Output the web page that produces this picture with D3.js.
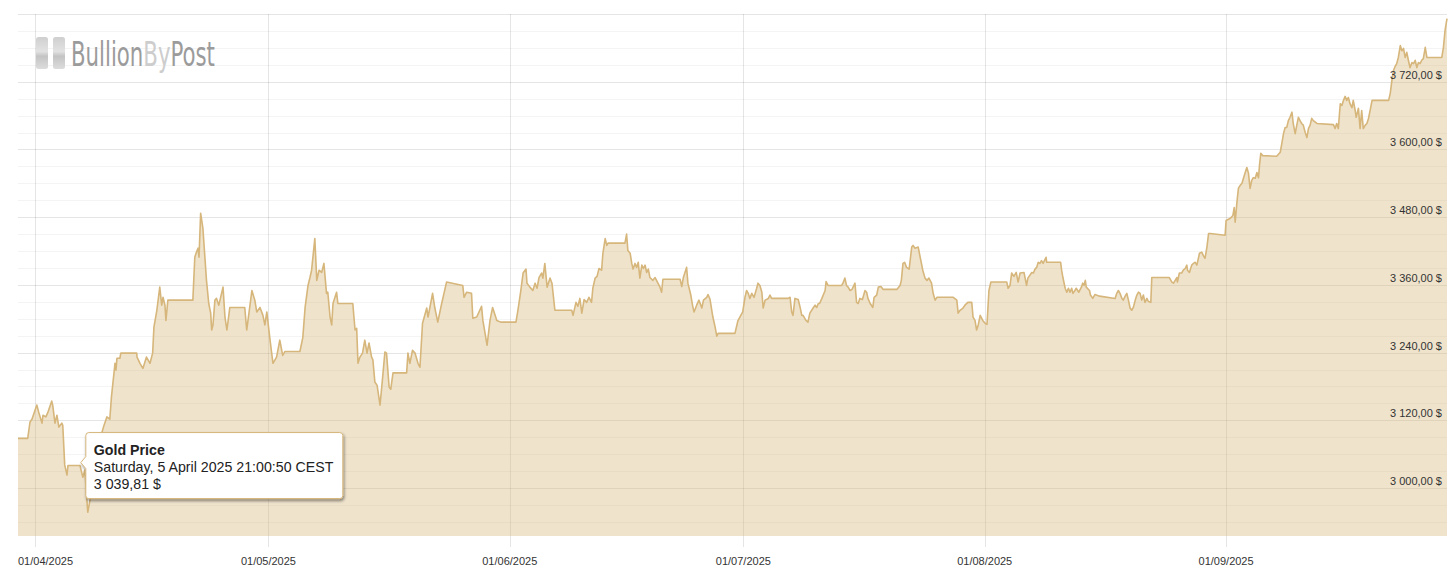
<!DOCTYPE html>
<html>
<head>
<meta charset="utf-8">
<style>
  body { margin: 0; padding: 0; background: #fff; }
  svg { display: block; font-family: "Liberation Sans", Arial, sans-serif; }
</style>
</head>
<body>
<svg id="chart" width="1456" height="574"></svg>
<script src="https://d3js.org/d3.v7.min.js"></script>
<script>
// ---------------- data ----------------
// timestamps "MM-DD HH" in 2025
const times = [
  "03-29 20","03-31 02","03-31 09","03-31 15","04-01 06","04-01 12","04-01 22","04-02 01","04-02 10","04-02 16",
  "04-03 04","04-03 07","04-03 14","04-03 20","04-04 02","04-04 11","04-04 14","04-04 20","04-05 03","04-05 06",
  "04-06 19","04-07 04","04-07 10","04-07 19","04-08 02","04-08 17","04-09 08","04-09 21","04-10 06","04-10 15",
  "04-10 20","04-11 07","04-11 10","04-11 13","04-11 22","04-12 01","04-14 02","04-14 03","04-14 12","04-14 21",
  "04-15 08","04-15 19","04-16 03","04-16 07","04-16 16","04-17 01","04-17 07","04-17 11","04-17 17","04-17 20",
  "04-18 02","04-21 07","04-21 13","04-21 18","04-21 23","04-22 02","04-22 07","04-22 14","04-23 01","04-23 08",
  "04-23 14","04-23 17","04-23 21","04-24 03","04-24 08","04-24 15","04-25 04","04-25 10","04-25 16","04-26 01",
  "04-27 23","04-28 05","04-28 09","04-28 21","04-29 06","04-29 12","04-29 22","04-30 07","04-30 13","04-30 19",
  "05-01 05","05-01 10","05-01 14","05-02 01","05-02 11","05-02 20","05-03 03","05-05 01","05-05 10","05-05 17",
  "05-06 02","05-06 08","05-06 13","05-06 23","05-07 05","05-07 12","05-07 20","05-08 03","05-08 11","05-08 15",
  "05-08 22","05-09 03","05-09 07","05-09 18","05-09 22","05-11 20","05-12 03","05-12 08","05-12 12","05-12 18",
  "05-13 02","05-13 09","05-13 16","05-13 22","05-14 06","05-14 10","05-14 16","05-14 23","05-15 08","05-15 16",
  "05-15 23","05-16 04","05-16 12","05-16 17","05-17 00","05-18 18","05-18 22","05-19 04","05-19 12","05-19 20",
  "05-20 05","05-20 11","05-20 19","05-21 08","05-21 12","05-22 02","05-22 09","05-22 18","05-23 06","05-23 21",
  "05-25 23","05-26 03","05-26 11","05-27 02","05-27 06","05-27 18","05-28 09","05-28 13","05-29 02","05-29 11",
  "05-29 19","05-30 08","05-30 20","06-01 19","06-02 01","06-02 10","06-02 17","06-03 02","06-03 05","06-03 14",
  "06-03 23","06-04 06","06-04 12","06-04 18","06-05 02","06-05 06","06-05 12","06-05 19","06-06 04","06-06 10",
  "06-06 19","06-08 23","06-09 03","06-09 12","06-09 18","06-10 00","06-10 06","06-10 13","06-10 21","06-11 04",
  "06-11 12","06-11 16","06-11 23","06-12 05","06-12 11","06-12 19","06-12 23","06-13 06","06-13 11","06-13 15",
  "06-15 19","06-16 00","06-16 04","06-16 11","06-16 16","06-16 20","06-17 02","06-17 07","06-17 12","06-17 17",
  "06-17 23","06-18 04","06-18 09","06-18 14","06-18 19","06-19 00","06-19 09","06-19 16","06-20 07","06-20 12",
  "06-20 16","06-22 21","06-23 02","06-23 07","06-23 17","06-23 21","06-24 06","06-24 12","06-24 16","06-25 00",
  "06-25 07","06-25 16","06-25 21","06-26 07","06-26 11","06-26 17","06-27 02","06-27 09","06-27 14","06-27 18",
  "06-29 22","06-30 07","06-30 22","07-01 05","07-01 10","07-01 15","07-01 20","07-02 02","07-02 09","07-02 17",
  "07-02 21","07-03 03","07-03 09","07-03 13","07-03 19","07-04 05","07-04 10","07-04 15","07-06 18","07-07 00",
  "07-07 05","07-07 09","07-07 15","07-08 01","07-08 07","07-08 12","07-08 16","07-09 01","07-09 07","07-09 13",
  "07-10 00","07-10 05","07-10 10","07-10 15","07-10 19","07-11 02","07-11 12","07-11 15","07-11 21","07-13 15",
  "07-13 19","07-14 01","07-14 06","07-14 11","07-14 17","07-14 23","07-15 08","07-15 13","07-15 18","07-15 23",
  "07-16 07","07-16 15","07-16 20","07-17 00","07-17 07","07-17 15","07-17 19","07-18 03","07-18 08","07-18 16",
  "07-18 23","07-20 17","07-21 03","07-21 07","07-21 12","07-21 17","07-21 23","07-22 07","07-22 15","07-22 19",
  "07-23 01","07-23 11","07-23 17","07-24 01","07-24 08","07-24 14","07-24 20","07-25 04","07-25 09","07-25 15",
  "07-25 21","07-27 23","07-28 10","07-28 14","07-28 20","07-29 05","07-29 11","07-29 20","07-30 08","07-30 12",
  "07-30 18","07-30 23","07-31 04","07-31 10","07-31 18","08-01 01","08-01 07","08-01 13","08-01 19","08-03 20",
  "08-04 00","08-04 06","08-04 11","08-04 18","08-05 01","08-05 07","08-05 13","08-06 01","08-06 09","08-06 13",
  "08-07 01","08-07 06","08-07 11","08-07 16","08-07 21","08-08 02","08-08 07","08-08 12","08-08 21","08-08 23",
  "08-10 18","08-10 21","08-11 01","08-11 08","08-11 13","08-11 18","08-11 23","08-12 04","08-12 08","08-12 14",
  "08-12 18","08-13 02","08-13 10","08-13 14","08-13 18","08-13 22","08-14 01","08-14 11","08-14 14","08-14 21",
  "08-15 04","08-15 08","08-15 18","08-17 18","08-17 23","08-18 04","08-18 09","08-18 15","08-18 19","08-19 01",
  "08-19 06","08-19 11","08-19 16","08-19 21","08-20 02","08-20 08","08-20 13","08-20 18","08-20 23","08-21 04",
  "08-21 09","08-21 14","08-21 20","08-22 00","08-22 08","08-22 11","08-24 17","08-25 01","08-25 06","08-25 11",
  "08-25 16","08-25 18","08-26 00","08-26 07","08-26 12","08-26 18","08-26 23","08-27 01","08-27 07","08-27 14",
  "08-27 19","08-28 01","08-28 06","08-28 14","08-28 21","08-29 02","08-29 07","08-29 13","08-29 18","08-29 23",
  "08-31 21","09-01 00","09-01 06","09-01 13","09-01 21","09-02 01","09-02 04","09-02 09","09-02 14","09-02 19",
  "09-03 01","09-03 06","09-03 11","09-03 16","09-03 21","09-04 02","09-04 07","09-04 12","09-04 18","09-04 23",
  "09-05 04","09-05 07","09-05 11","09-05 17","09-07 12","09-07 23","09-08 04","09-08 09","09-08 14","09-08 19",
  "09-09 00","09-09 05","09-09 11","09-09 15","09-09 21","09-10 02","09-10 07","09-10 12","09-10 17","09-10 22",
  "09-11 04","09-11 09","09-11 14","09-11 19","09-12 00","09-12 05","09-12 16","09-14 19","09-15 00","09-15 05",
  "09-15 10","09-15 16","09-15 21","09-16 02","09-16 07","09-16 12","09-16 17","09-16 22","09-17 04","09-17 08",
  "09-17 14","09-17 17","09-18 00","09-18 05","09-18 10","09-18 15","09-18 21","09-19 02","09-19 07","09-19 12",
  "09-19 18","09-21 21","09-22 02","09-22 07","09-22 12","09-22 17","09-22 22","09-23 03","09-23 09","09-23 14",
  "09-23 19","09-24 00","09-24 05","09-24 10","09-24 15","09-24 21","09-25 02","09-25 07","09-25 12","09-25 17",
  "09-25 22","09-26 03","09-26 08","09-26 14","09-26 19","09-28 17","09-28 22","09-29 03","09-29 09"
];

// gold price, $ per oz
const prices = [
  3088,3088,3117,3122,3147,3134,3115,3129,3126,3134,
  3154,3147,3115,3129,3108,3115,3111,3041,3023,3040,
  3040,3019,3032,2957,2979,3032,3085,3111,3126,3122,
  3161,3221,3209,3230,3230,3239,3239,3232,3221,3212,
  3232,3221,3239,3285,3315,3356,3324,3338,3324,3297,
  3333,3333,3409,3418,3425,3409,3487,3460,3368,3327,
  3310,3280,3289,3333,3336,3324,3356,3303,3280,3320,
  3320,3280,3297,3350,3333,3312,3320,3306,3289,3312,
  3262,3239,3221,3232,3262,3235,3242,3242,3267,3320,
  3359,3373,3386,3442,3368,3386,3382,3398,3345,3347,
  3303,3289,3327,3347,3327,3327,3280,3283,3221,3232,
  3239,3262,3239,3257,3232,3227,3188,3182,3147,3196,
  3241,3239,3179,3175,3204,3204,3239,3221,3244,3239,
  3221,3214,3292,3319,3303,3345,3319,3294,3327,3365,
  3359,3338,3347,3345,3301,3303,3322,3297,3253,3297,
  3320,3297,3294,3294,3315,3350,3381,3388,3363,3356,
  3350,3363,3354,3373,3381,3372,3398,3356,3372,3363,
  3315,3315,3306,3329,3322,3336,3310,3334,3329,3338,
  3329,3354,3372,3375,3389,3386,3416,3442,3430,3434,
  3434,3450,3421,3416,3398,3388,3398,3391,3400,3372,
  3395,3389,3395,3382,3388,3373,3368,3373,3356,3347,
  3370,3370,3357,3373,3391,3363,3342,3322,3312,3324,
  3333,3319,3333,3338,3343,3335,3303,3285,3269,3274,
  3274,3296,3312,3338,3350,3345,3336,3345,3338,3354,
  3363,3359,3347,3319,3333,3336,3342,3336,3336,3338,
  3312,3306,3336,3334,3320,3306,3306,3297,3294,3310,
  3320,3324,3320,3327,3327,3336,3350,3366,3359,3359,
  3363,3372,3359,3356,3350,3352,3363,3329,3327,3336,
  3334,3350,3347,3336,3327,3320,3338,3342,3356,3357,
  3352,3352,3359,3368,3398,3400,3391,3388,3427,3430,
  3425,3427,3409,3386,3372,3368,3372,3363,3345,3333,
  3338,3338,3333,3310,3315,3319,3324,3329,3329,3303,
  3297,3280,3289,3306,3297,3292,3290,3350,3365,3365,
  3354,3359,3381,3375,3382,3365,3381,3382,3359,3372,
  3382,3381,3388,3391,3400,3398,3403,3398,3409,3400,
  3400,3386,3373,3354,3347,3354,3347,3354,3345,3350,
  3354,3347,3356,3363,3359,3368,3356,3350,3342,3336,
  3343,3342,3340,3336,3345,3350,3345,3336,3333,3340,
  3345,3333,3319,3315,3320,3333,3342,3347,3345,3333,
  3342,3329,3336,3331,3329,3373,3373,3365,3363,3368,
  3373,3365,3381,3381,3386,3389,3395,3386,3382,3395,
  3398,3400,3395,3416,3418,3412,3407,3427,3451,3451,
  3448,3474,3476,3478,3483,3497,3471,3504,3531,3536,
  3540,3550,3559,3568,3558,3531,3545,3550,3549,3559,
  3550,3572,3593,3589,3588,3595,3611,3628,3639,3639,
  3651,3657,3666,3646,3628,3643,3657,3651,3646,3643,
  3630,3621,3637,3643,3655,3651,3646,3644,3637,3646,
  3637,3681,3678,3687,3694,3687,3692,3681,3674,3687,
  3669,3657,3673,3637,3669,3637,3643,3646,3655,3669,
  3687,3687,3699,3722,3740,3747,3752,3763,3784,3775,
  3779,3763,3772,3758,3745,3754,3752,3758,3745,3754,
  3752,3758,3761,3781,3763,3763,3781,3811,3832
];

const yTicks = [3000, 3120, 3240, 3360, 3480, 3600, 3720, 3840];
const yLabelTicks = [3000, 3120, 3240, 3360, 3480, 3600, 3720];
const seriesName = "Gold Price";
const tipTime = "04-05 21";
const tipValue = 3039.81;
const tipDateText = "Saturday, 5 April 2025 21:00:50 CEST";

// ---------------- setup ----------------
const parse = d3.timeParse("%Y-%m-%d %H");
const data = times.map((t, i) => ({ date: parse("2025-" + t), price: prices[i] }));

const plot = { left: 18, right: 1447, top: 14, bottom: 536 };
const gold = "#d6b67b";

const svg = d3.select("#chart");

const x = d3.scaleTime()
  .domain(d3.extent(data, d => d.date))
  .range([plot.left, plot.right]);

const y = d3.scaleLinear()
  .domain([2915, 3840])
  .range([plot.bottom, plot.top]);

const money = d3.formatLocale({ decimal: ",", thousands: " ", grouping: [3], currency: ["", ""] });
const fmt = v => money.format(",.2f")(v) + " $";

// ---------------- grid ----------------
const grid = svg.append("g");

const minor = d3.range(2940, 3841, 30).filter(v => !yTicks.includes(v));
grid.selectAll(".minor")
  .data(minor)
  .enter().append("line")
  .attr("x1", plot.left).attr("x2", plot.right)
  .attr("y1", d => Math.round(y(d)) + 0.5).attr("y2", d => Math.round(y(d)) + 0.5)
  .attr("stroke", "#000").attr("stroke-opacity", 0.045);

grid.selectAll(".major")
  .data(yTicks)
  .enter().append("line")
  .attr("x1", plot.left).attr("x2", plot.right)
  .attr("y1", d => Math.round(y(d)) + 0.5).attr("y2", d => Math.round(y(d)) + 0.5)
  .attr("stroke", "#000").attr("stroke-opacity", 0.1);

const months = d3.timeMonth.range(x.domain()[0], x.domain()[1]);
grid.selectAll(".vgrid")
  .data(months)
  .enter().append("line")
  .attr("x1", d => Math.round(x(d)) + 0.5).attr("x2", d => Math.round(x(d)) + 0.5)
  .attr("y1", plot.top).attr("y2", plot.bottom + 11)
  .attr("stroke", "#000").attr("stroke-opacity", 0.1);

// ---------------- series ----------------
const area = d3.area()
  .x(d => x(d.date))
  .y0(plot.bottom)
  .y1(d => y(d.price));

const line = d3.line()
  .x(d => x(d.date))
  .y(d => y(d.price));

svg.append("path")
  .datum(data)
  .attr("d", area)
  .attr("fill", gold)
  .attr("fill-opacity", 0.39);

svg.append("path")
  .datum(data)
  .attr("d", line)
  .attr("fill", "none")
  .attr("stroke", gold)
  .attr("stroke-width", 1.6)
  .attr("stroke-linejoin", "round");

// ---------------- axes labels ----------------
svg.append("g").selectAll("text")
  .data(yLabelTicks)
  .enter().append("text")
  .attr("x", 1442)
  .attr("y", d => y(d) - 3)
  .attr("text-anchor", "end")
  .style("font-size", "11px")
  .style("fill", "#333")
  .text(d => fmt(d));

const xFmt = d3.timeFormat("%d/%m/%Y");
svg.append("g").selectAll("text")
  .data(months)
  .enter().append("text")
  .attr("y", 565)
  .style("font-size", "11px")
  .style("fill", "#333")
  .text(d => xFmt(d))
  .attr("x", function(d) {
    const w = this.getComputedTextLength();
    return Math.max(plot.left, x(d) - w / 2);
  });

// ---------------- logo ----------------
const defs = svg.append("defs");
const lg = defs.append("linearGradient").attr("id", "bar").attr("x1", 0).attr("y1", 0).attr("x2", 0).attr("y2", 1);
lg.append("stop").attr("offset", "0%").attr("stop-color", "#cfcfcf");
lg.append("stop").attr("offset", "45%").attr("stop-color", "#e2e2e2");
lg.append("stop").attr("offset", "60%").attr("stop-color", "#c4c4c4");
lg.append("stop").attr("offset", "100%").attr("stop-color", "#dcdcdc");

const logo = svg.append("g");
[36, 53].forEach(bx => {
  logo.append("rect")
    .attr("x", bx).attr("y", 37).attr("width", 12).attr("height", 32)
    .attr("rx", 2.5)
    .attr("fill", "url(#bar)");
});
// squeeze the word mark horizontally to the logo's width
const logoText = logo.append("text")
  .attr("x", 0).attr("y", 0)
  .style("font-family", "'Liberation Sans Narrow', 'DejaVu Sans Condensed', sans-serif")
  .style("font-size", "33px");
[["Bullion", "#9b9b9b"], ["By", "#cdcdcd"], ["Post", "#9b9b9b"]].forEach(p => {
  logoText.append("tspan").style("fill", p[1]).text(p[0]);
});
const logoW = logoText.node().getComputedTextLength();
logoText.attr("transform", `translate(71,66) scale(${144 / logoW},1)`);

// ---------------- tooltip ----------------
const sh = defs.append("filter").attr("id", "shadow").attr("x", "-10%").attr("y", "-20%").attr("width", "130%").attr("height", "150%");
sh.append("feDropShadow").attr("dx", 1).attr("dy", 2).attr("stdDeviation", 1.6)
  .attr("flood-color", "#000").attr("flood-opacity", 0.45);

const px = x(parse("2025-" + tipTime)) + 8;
const py = y(tipValue) - 3;
const bx = px + 5, by = py - 30, bw = 257, bh = 66, r = 3;

const tip = svg.append("g");
const tipPath = d3.path();
tipPath.moveTo(bx + r, by);
tipPath.lineTo(bx + bw - r, by);
tipPath.arcTo(bx + bw, by, bx + bw, by + r, r);
tipPath.lineTo(bx + bw, by + bh - r);
tipPath.arcTo(bx + bw, by + bh, bx + bw - r, by + bh, r);
tipPath.lineTo(bx + r, by + bh);
tipPath.arcTo(bx, by + bh, bx, by + bh - r, r);
tipPath.lineTo(bx, py + 6);
tipPath.lineTo(px, py);
tipPath.lineTo(bx, py - 6);
tipPath.lineTo(bx, by + r);
tipPath.arcTo(bx, by, bx + r, by, r);
tipPath.closePath();

tip.append("path")
  .attr("d", tipPath.toString())
  .attr("fill", "#fff")
  .attr("stroke", gold)
  .attr("stroke-width", 1)
  .attr("filter", "url(#shadow)");

const tipText = tip.append("text")
  .attr("x", bx + 8)
  .style("font-size", "14.2px")
  .style("fill", "#222");
tipText.append("tspan").attr("x", bx + 8).attr("y", by + 22).style("font-weight", "bold").text(seriesName);
tipText.append("tspan").attr("x", bx + 8).attr("y", by + 39).text(tipDateText);
tipText.append("tspan").attr("x", bx + 8).attr("y", by + 56).text(fmt(tipValue));
</script>
</body>
</html>
